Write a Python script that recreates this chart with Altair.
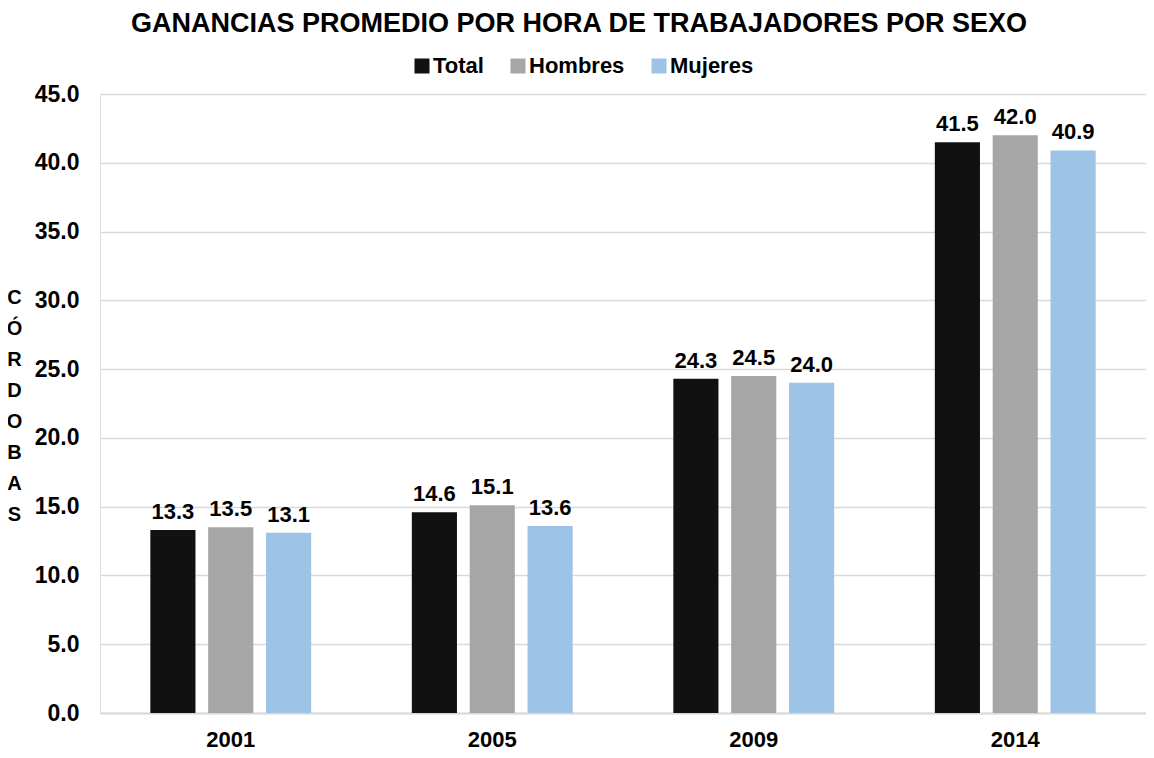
import altair as alt
import pandas as pd

FONT = "Liberation Sans, Arial, sans-serif"

years = ["2001", "2005", "2009", "2014"]
series = ["Total", "Hombres", "Mujeres"]
total = [13.3, 14.6, 24.3, 41.5]
hombres = [13.5, 15.1, 24.5, 42.0]
mujeres = [13.1, 13.6, 24.0, 40.9]
colors = ["#111111", "#a6a6a6", "#9dc3e6"]
y_ticks = [0, 5, 10, 15, 20, 25, 30, 35, 40, 45]
y_title = ["C", "Ó", "R", "D", "O", "B", "A", "S"]
title_text = "GANANCIAS PROMEDIO POR HORA DE TRABAJADORES POR SEXO"

rows = []
for name, vals in zip(series, [total, hombres, mujeres]):
    for yr, v in zip(years, vals):
        rows.append({"year": yr, "sexo": name, "value": v})
df = pd.DataFrame(rows)

base = alt.Chart(df).encode(
    x=alt.X(
        "year:N",
        sort=years,
        scale=alt.Scale(paddingInner=0.385, paddingOuter=0.1925),
        axis=alt.Axis(
            title=None,
            labelAngle=0,
            labelFont=FONT,
            labelFontSize=22,
            labelFontWeight="bold",
            labelColor="#000000",
            labelPadding=16,
            ticks=False,
            tickSize=0,
            domainColor="#d9d9d9",
            domainWidth=2,
            grid=False,
        ),
    ),
    xOffset=alt.XOffset(
        "sexo:N", sort=series, scale=alt.Scale(paddingInner=0.22, paddingOuter=0)
    ),
    y=alt.Y(
        "value:Q",
        scale=alt.Scale(domain=[0, 45], nice=False),
        axis=alt.Axis(
            values=y_ticks,
            format=".1f",
            title=y_title,
            titleAngle=0,
            titleAlign="center",
            titleBaseline="top",
            titleX=-86,
            titleY=193,
            titleFont=FONT,
            titleFontSize=20,
            titleFontWeight="bold",
            titleColor="#000000",
            titleLineHeight=31,
            labelFont=FONT,
            labelFontSize=23,
            labelFontWeight="bold",
            labelColor="#000000",
            labelPadding=21,
            ticks=False,
            tickSize=0,
            domain=False,
            grid=True,
            gridColor="#d9d9d9",
            gridWidth=1.5,
        ),
    ),
)

bars = base.mark_bar().encode(
    color=alt.Color(
        "sexo:N",
        sort=series,
        scale=alt.Scale(domain=series, range=colors),
        title=None,
        legend=alt.Legend(
            orient="none",
            legendX=311,
            legendY=-39,
            direction="horizontal",
            symbolType="square",
            symbolSize=225,
            symbolStrokeWidth=0,
            symbolOpacity=1,
            labelFont=FONT,
            labelFontSize=22,
            labelFontWeight="bold",
            labelColor="#000000",
            labelOffset=0,
            columnPadding=23,
            padding=0,
        ),
    )
)

labels = base.mark_text(
    dy=-11,
    baseline="alphabetic",
    font=FONT,
    fontSize=22,
    fontWeight="bold",
    color="#000000",
).encode(text=alt.Text("value:Q", format=".1f"))

chart = (
    alt.layer(bars, labels)
    .properties(
        width=1046,
        height=619,
        autosize=alt.AutoSizeParams(type="none"),
        padding={"left": 92, "top": 86, "right": 0, "bottom": 37},
        title=alt.TitleParams(
            text=title_text,
            font=FONT,
            fontSize=27,
            fontWeight="bold",
            color="#000000",
            anchor="middle",
            dx=-44,
            offset=17,
        ),
    )
    .configure_view(stroke=None)
    .configure(background="#ffffff")
)

chart.save("out.html", embed_options={"renderer": "svg", "actions": False})
